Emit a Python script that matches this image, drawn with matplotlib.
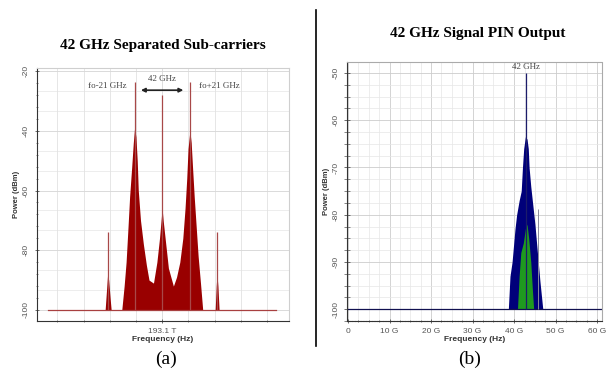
import numpy as np
import matplotlib
matplotlib.use("Agg")
import matplotlib.pyplot as plt
from matplotlib.ticker import MultipleLocator

plt.rcParams["axes.unicode_minus"] = False

# (a) optical spectrum around 193.1 THz, x = offset in GHz
A_ENV_F = [-43.5, -42.4, -41.6, -40.8, -39.7, -38.9,
           -30.8, -29.0, -27.5, -26.0, -24.8, -23.2, -22.0, -21.0, -20.0, -19.0,
           -18.2, -16.5, -14.3, -12.0, -10.0, -6.6, -4.0, -2.0, -0.8, 0.0,
           0.8, 2.3, 4.8, 8.6, 11.0, 13.5, 15.8, 17.5, 18.8, 19.8, 21.2, 22.2,
           23.2, 24.5, 26.0, 27.5, 29.3, 31.0,
           40.5, 41.3, 41.9, 42.6, 43.5]
A_ENV_P = [-100, -93, -88, -90, -96, -100,
           -100, -92, -84, -72, -62, -52, -44, -39, -42, -50,
           -60, -70, -78, -85, -90, -91, -84, -76, -70, -66,
           -70, -76, -86, -92, -89, -84, -76, -66, -56, -46, -40, -44,
           -52, -62, -72, -82, -91, -100,
           -100, -92, -88, -92, -100]
A_SPIKE_F = [-41.0, -20.8, 0.0, 21.2, 42.2]
A_SPIKE_P = [-74, -23.5, -28, -23.5, -74]
A_BASE_F = [-87, 87]

# (b) PIN output, x in GHz
B_BLUE_F = [38.6, 39.0, 39.5, 40.2, 40.6, 41.2, 41.7, 42.0, 42.3, 42.7, 43.1,
            43.4, 43.6, 44.0, 44.5, 45.0, 45.6, 46.2, 46.9]
B_BLUE_P = [-100, -93, -90, -83, -80, -77, -75, -70, -66, -63.5, -64,
            -66, -70, -74, -78, -82, -88, -94, -100]
B_GREEN_F = [40.8, 41.2, 41.6, 42.2, 42.7, 43.1, 43.5, 44.0, 44.4, 44.7]
B_GREEN_P = [-100, -93, -88, -86, -83, -82, -85, -90, -96, -100]
B_SPIKE_F = 42.8
B_SPIKE_P = -50
B_GRAY_F = 45.7
B_GRAY_P = -78.7
B_TICKS = [0, 10, 20, 30, 40, 50, 60]
B_TICKLABELS = ["0", "10 G", "20 G", "30 G", "40 G", "50 G", "60 G"]

SANS = "Liberation Sans"
SERIF = "Liberation Serif"


def style_axis(ax):
    ax.tick_params(labelsize=6, labelcolor="#555555", colors="#555555",
                   direction="inout", length=3, width=0.6)
    ax.tick_params(which="minor", direction="inout", length=2, width=0.5,
                   colors="#555555")
    for lab in ax.get_yticklabels():
        lab.set_rotation(90)
        lab.set_va("center")
        lab.set_family(SANS)
    for lab in ax.get_xticklabels():
        lab.set_family(SANS)
    ax.spines["left"].set_color("#333333")
    ax.spines["bottom"].set_color("#333333")
    ax.set_axisbelow(True)


def main():
    fig = plt.figure(figsize=(6.12, 3.72), dpi=100)

    # ---- panel (a)
    ax_a = fig.add_axes([0.0605, 0.137, 0.412, 0.680])
    ax_a.set_xlim(-95.5, 97)
    ax_a.set_ylim(-103.7, -19)
    ax_a.fill_between(A_ENV_F, A_ENV_P, -100, color="#990000", lw=0)
    ax_a.vlines(A_SPIKE_F, -100, A_SPIKE_P, color="#a84848", lw=0.9)
    ax_a.plot(A_BASE_F, [-100, -100], color="#a84040", lw=0.9)
    ax_a.set_xticks([0])
    ax_a.set_xticklabels(["193.1 T"])
    ax_a.xaxis.set_minor_locator(MultipleLocator(20))
    ax_a.set_yticks([-20, -40, -60, -80, -100])
    ax_a.yaxis.set_minor_locator(MultipleLocator(4))
    ax_a.grid(which="major", color="#d8d8d8", lw=0.6)
    ax_a.xaxis.grid(which="minor", color="#e2e2e2", lw=0.6)
    for yv in np.arange(-100, -19, 20 / 3):
        ax_a.axhline(yv, color="#e6e6e6", lw=0.5, zorder=0)
    for s in ("top", "right"):
        ax_a.spines[s].set_color("#cfcfcf")
    style_axis(ax_a)
    ax_a.set_ylabel("Power (dBm)", fontsize=5.5, fontweight="bold",
                    family=SANS, color="#333333", labelpad=2)
    ax_a.set_xlabel("Frequency (Hz)", fontsize=6, fontweight="bold",
                    family=SANS, color="#333333", labelpad=1)
    ax_a.annotate("", xy=(-18.3, -26.4), xytext=(18.3, -26.4),
                  arrowprops=dict(arrowstyle="<|-|>", color="#222222",
                                  lw=1.2, mutation_scale=6))
    ax_a.text(0, -22.7, "42 GHz", fontsize=6.5, family=SERIF,
              color="#444444", ha="center", va="center")
    ax_a.text(-42, -25, "fo-21 GHz", fontsize=6.5, family=SERIF,
              color="#444444", ha="center", va="center")
    ax_a.text(43.5, -25, "fo+21 GHz", fontsize=6.5, family=SERIF,
              color="#444444", ha="center", va="center")

    # ---- panel (b)
    ax_b = fig.add_axes([0.567, 0.137, 0.417, 0.696])
    ax_b.set_xlim(-0.24, 61.2)
    ax_b.set_ylim(-102.5, -47.7)
    ax_b.axhline(-100, color="#101050", lw=0.9)
    ax_b.fill_between(B_BLUE_F, B_BLUE_P, -100, color="#00007a", lw=0)
    ax_b.fill_between(B_GREEN_F, B_GREEN_P, -100, color="#1f9a1f", lw=0)
    ax_b.vlines([B_SPIKE_F], -100, [B_SPIKE_P], color="#1c1c6a", lw=0.9)
    ax_b.vlines([B_GRAY_F], -100, [B_GRAY_P], color="#8a8a9a", lw=0.7)
    ax_b.set_xticks(B_TICKS)
    ax_b.set_xticklabels(B_TICKLABELS)
    ax_b.xaxis.set_minor_locator(MultipleLocator(2.5))
    ax_b.set_yticks([-50, -60, -70, -80, -90, -100])
    ax_b.yaxis.set_minor_locator(MultipleLocator(2.5))
    ax_b.grid(which="major", color="#cccccc", lw=0.6)
    ax_b.grid(which="minor", color="#e6e6e6", lw=0.5)
    for s in ("top", "right"):
        ax_b.spines[s].set_color("#aaaaaa")
        ax_b.spines[s].set_linestyle((0, (1, 1)))
    ax_b.spines["bottom"].set_linestyle((0, (2, 0.5)))
    style_axis(ax_b)
    ax_b.tick_params(axis="y", which="both", length=4)
    ax_b.set_ylabel("Power (dBm)", fontsize=5.5, fontweight="bold",
                    family=SANS, color="#333333", labelpad=2)
    ax_b.set_xlabel("Frequency (Hz)", fontsize=6, fontweight="bold",
                    family=SANS, color="#333333", labelpad=1)
    ax_b.text(B_SPIKE_F, -48.8, "42 GHz", fontsize=6.5, family=SERIF,
              color="#444444", ha="center", va="center")

    # titles, panel labels, separator
    fig.text(163 / 612, 1 - 45 / 372, "42 GHz Separated Sub-carriers",
             fontsize=11, fontweight="bold", family=SERIF, ha="center", va="center")
    fig.text(478 / 612, 1 - 33 / 372, "42 GHz Signal PIN Output",
             fontsize=11, fontweight="bold", family=SERIF, ha="center", va="center")
    fig.text(166 / 612, 1 - 359 / 372, "(a)", fontsize=14, family=SERIF,
             ha="center", va="center")
    fig.text(470 / 612, 1 - 359 / 372, "(b)", fontsize=14, family=SERIF,
             ha="center", va="center")
    fig.add_artist(plt.Line2D([316 / 612, 316 / 612], [1 - 10 / 372, 1 - 346 / 372],
                              color="black", lw=1.2))

    fig.savefig("out.png", dpi=100)


if __name__ == "__main__":
    main()
